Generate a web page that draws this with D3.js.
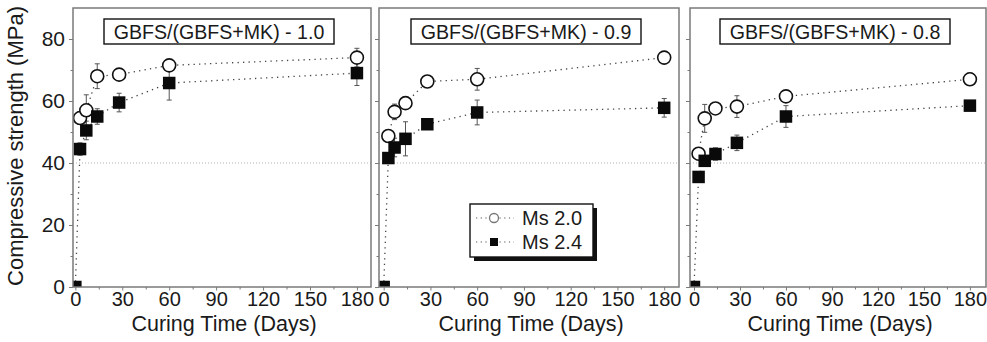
<!DOCTYPE html>
<html>
<head>
<meta charset="utf-8">
<script src="https://cdn.jsdelivr.net/npm/d3@7"></script>
<style>
  body { margin: 0; background: #fff; }
  svg { display: block; font-family: "Liberation Sans", Arial, sans-serif; }
</style>
</head>
<body>
<svg id="chart" width="987" height="342"></svg>
<script>
// Data
const days = [0, 3, 7, 14, 28, 60, 180];
const ratioLabels = ["GBFS/(GBFS+MK) - 1.0", "GBFS/(GBFS+MK) - 0.9", "GBFS/(GBFS+MK) - 0.8"];
const seriesNames = ["Ms 2.0", "Ms 2.4"];

// Ms 2.0 (open circles), one row per panel; null = no point
const ms20 = [
  [null, 54.5, 57.0, 68.0, 68.5, 71.5, 74.0],
  [null, 48.7, 56.5, 59.3, 66.3, 67.0, 74.0],
  [null, 43.0, 54.4, 57.6, 58.2, 61.5, 67.0]
];
const ms20Err = [
  [0, 2.0, 5.0, 4.0, 1.0, 1.5, 3.0],
  [0, 2.0, 2.5, 2.0, 1.0, 3.5, 2.0],
  [0, 2.0, 4.5, 1.0, 3.5, 1.0, 2.0]
];
// Ms 2.4 (filled squares)
const ms24 = [
  [0, 44.5, 50.5, 55.0, 59.5, 65.8, 69.0],
  [0, 41.6, 45.0, 47.8, 52.5, 56.3, 57.8],
  [0, 35.5, 40.7, 42.9, 46.5, 55.0, 58.5]
];
const ms24Err = [
  [0, 2.0, 3.0, 2.5, 3.0, 5.5, 4.0],
  [0, 1.5, 3.0, 5.5, 1.0, 4.0, 3.0],
  [0, 1.0, 1.5, 2.0, 2.5, 3.5, 1.0]
];

const yTicks = [0, 10, 20, 30, 40, 50, 60, 70, 80];
const xTicks = [0, 15, 30, 45, 60, 75, 90, 105, 120, 135, 150, 165, 180];
const refLine = 40;

// Layout
const svg = d3.select("#chart");
const plotTop = 8, plotBottom = 287;
const panels = [
  {x0: 73, x1: 371, d0: -1.5, d1: 189},
  {x0: 379, x1: 679, d0: -3, d1: 189.5},
  {x0: 690, x1: 986, d0: -2.6, d1: 190.5}
];
const textColor = "#1a1a1a";
const frameColor = "#7a7a7a";

const y = d3.scaleLinear().domain([0, 90]).range([plotBottom, plotTop]);

panels.forEach((p, i) => {
  const x = d3.scaleLinear().domain([p.d0, p.d1]).range([p.x0, p.x1]);
  const g = svg.append("g");

  // clip
  svg.append("clipPath").attr("id", "clip" + i)
    .append("rect")
    .attr("x", p.x0).attr("y", plotTop)
    .attr("width", p.x1 - p.x0).attr("height", plotBottom - plotTop);

  // y axis
  const yAxis = d3.axisLeft(y)
    .tickValues(yTicks)
    .tickSize(4)
    .tickPadding(4)
    .tickFormat(d => (i === 0 && d % 20 === 0) ? d : "");
  const yg = g.append("g")
    .attr("transform", `translate(${p.x0},0)`)
    .call(yAxis)
    .call(a => a.select(".domain").remove());
  yg.selectAll(".tick line").attr("stroke", frameColor)
    .attr("x2", d => d % 20 === 0 ? -4 : -2.5);
  yg.selectAll(".tick text")
    .attr("font-size", 21).attr("fill", textColor)
    .attr("font-family", "Liberation Sans, Arial, sans-serif");

  // x axis
  const xAxis = d3.axisBottom(x)
    .tickValues(xTicks)
    .tickSize(3)
    .tickPadding(2)
    .tickFormat(d => d % 30 === 0 ? d : "");
  const xg = g.append("g")
    .attr("transform", `translate(0,${plotBottom})`)
    .call(xAxis)
    .call(a => a.select(".domain").remove());
  xg.selectAll(".tick line").attr("stroke", frameColor)
    .attr("y2", d => d % 30 === 0 ? 3.5 : 2.5);
  xg.selectAll(".tick text")
    .attr("font-size", 20).attr("fill", textColor)
    .attr("font-family", "Liberation Sans, Arial, sans-serif");

  // reference line at 40 MPa
  g.append("line")
    .attr("x1", p.x0).attr("x2", p.x1)
    .attr("y1", y(refLine)).attr("y2", y(refLine))
    .attr("stroke", "#b0b0b0").attr("stroke-width", 1)
    .attr("stroke-dasharray", "1,2");

  const plot = g.append("g").attr("clip-path", `url(#clip${i})`);

  const line = d3.line()
    .defined(d => d.v !== null)
    .x(d => x(d.t)).y(d => y(d.v));

  const s20 = days.map((t, k) => ({t, v: ms20[i][k], e: ms20Err[i][k]}));
  const s24 = days.map((t, k) => ({t, v: ms24[i][k], e: ms24Err[i][k]}));

  [s20, s24].forEach(s => {
    plot.append("path").datum(s)
      .attr("d", line)
      .attr("fill", "none")
      .attr("stroke", "#444")
      .attr("stroke-width", 1.3)
      .attr("stroke-dasharray", "1.3,4.2");
  });

  // error bars
  [s20, s24].forEach(s => {
    const pts = s.filter(d => d.v !== null && d.e > 0);
    const eb = plot.selectAll(null).data(pts).join("g")
      .attr("stroke", "#555").attr("stroke-width", 1);
    eb.append("line")
      .attr("x1", d => x(d.t)).attr("x2", d => x(d.t))
      .attr("y1", d => y(d.v - d.e)).attr("y2", d => y(d.v + d.e));
    eb.append("line")
      .attr("x1", d => x(d.t) - 2.5).attr("x2", d => x(d.t) + 2.5)
      .attr("y1", d => y(d.v + d.e)).attr("y2", d => y(d.v + d.e));
    eb.append("line")
      .attr("x1", d => x(d.t) - 2.5).attr("x2", d => x(d.t) + 2.5)
      .attr("y1", d => y(d.v - d.e)).attr("y2", d => y(d.v - d.e));
  });

  // markers
  plot.selectAll(null).data(s20.filter(d => d.v !== null)).join("circle")
    .attr("cx", d => x(d.t)).attr("cy", d => y(d.v))
    .attr("r", 6.5)
    .attr("fill", "#fff").attr("stroke", "#111").attr("stroke-width", 1.6);
  const sq = 12.5;
  plot.selectAll(null).data(s24).join("rect")
    .attr("x", d => x(d.t) - sq / 2).attr("y", d => y(d.v) - sq / 2)
    .attr("width", sq).attr("height", sq)
    .attr("fill", "#0a0a0a");

  // frame
  g.append("rect")
    .attr("x", p.x0).attr("y", plotTop)
    .attr("width", p.x1 - p.x0).attr("height", plotBottom - plotTop)
    .attr("fill", "none").attr("stroke", frameColor).attr("stroke-width", 1.5);

  // title box
  const cx = (p.x0 + p.x1) / 2 - 3;
  const bw = 230, bh = 25;
  g.append("rect")
    .attr("x", cx - bw / 2).attr("y", 19)
    .attr("width", bw).attr("height", bh)
    .attr("fill", "#fff").attr("stroke", "#111").attr("stroke-width", 1.4);
  g.append("text")
    .attr("x", cx).attr("y", 38.5)
    .attr("text-anchor", "middle")
    .attr("font-size", 19.6).attr("fill", textColor)
    .text(ratioLabels[i]);

  // x label
  g.append("text")
    .attr("x", (p.x0 + p.x1) / 2 + 2).attr("y", 330.5)
    .attr("text-anchor", "middle")
    .attr("font-size", 21.5).attr("fill", textColor)
    .text("Curing Time (Days)");
});

// y label
svg.append("text")
  .attr("transform", "translate(23,146) rotate(-90)")
  .attr("text-anchor", "middle")
  .attr("font-size", 22).attr("fill", textColor)
  .text("Compressive strength (MPa)");

// legend (middle panel)
const lg = svg.append("g").attr("transform", "translate(470,204)");
const lw = 123, lh = 53;
lg.append("rect").attr("x", 4).attr("y", 4).attr("width", lw).attr("height", lh).attr("fill", "#111");
lg.append("rect").attr("x", 0).attr("y", 0).attr("width", lw).attr("height", lh)
  .attr("fill", "#fff").attr("stroke", "#111").attr("stroke-width", 1.4);
seriesNames.forEach((name, k) => {
  const ly = 14 + k * 24;
  lg.append("line").attr("x1", 6).attr("x2", 44).attr("y1", ly).attr("y2", ly)
    .attr("stroke", "#555").attr("stroke-width", 1.2).attr("stroke-dasharray", "1.2,3.5");
  if (k === 0) {
    lg.append("circle").attr("cx", 24).attr("cy", ly).attr("r", 4.5)
      .attr("fill", "#fff").attr("stroke", "#777").attr("stroke-width", 1.3);
  } else {
    lg.append("rect").attr("x", 20).attr("y", ly - 4).attr("width", 8).attr("height", 8)
      .attr("fill", "#0a0a0a");
  }
  lg.append("text").attr("x", 52).attr("y", ly + 7)
    .attr("font-size", 20).attr("fill", textColor).text(name);
});
</script>
</body>
</html>
